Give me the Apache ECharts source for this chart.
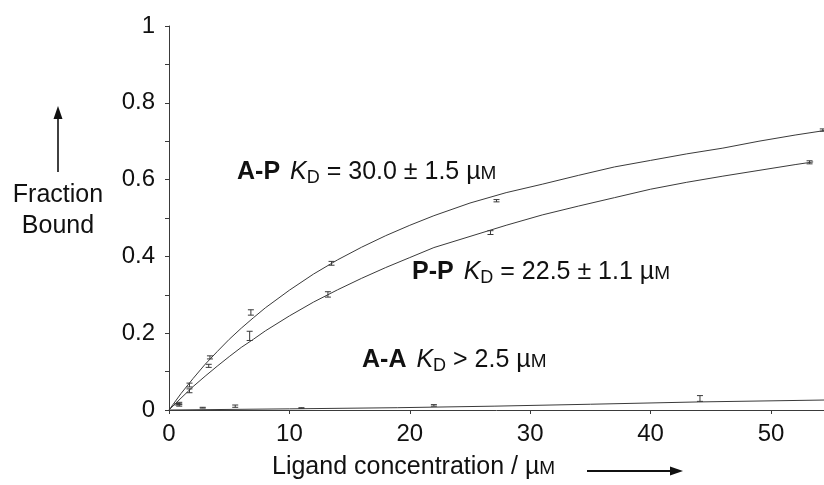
<!DOCTYPE html>
<html>
<head>
<meta charset="utf-8">
<script src="https://cdn.jsdelivr.net/npm/echarts@6/dist/echarts.min.js"></script>
<style>html,body{margin:0;padding:0;background:#fff}#c{width:824px;height:485px}</style>
</head>
<body>
<div id="c"></div>
<script>
// ---- data ----
var xTicks = [0, 10, 20, 30, 40, 50];
var yTicks = [0, 0.1, 0.2, 0.3, 0.4, 0.5, 0.6, 0.7, 0.8, 0.9, 1];
var yLabels = [0, 0.2, 0.4, 0.6, 0.8, 1];

// fitted curves (x, fraction bound)
var curveAP = [[0,0],[1,0.043],[2,0.082],[3,0.119],[4,0.152],[5,0.184],[6,0.213],[7,0.240],[8,0.266],[10,0.312],[12,0.354],[14,0.391],[16,0.424],[18,0.454],[20,0.481],[22,0.506],[25,0.539],[28,0.566],[31,0.588],[34,0.611],[37,0.633],[40,0.650],[43,0.667],[46,0.682],[49,0.700],[52,0.716],[54.5,0.728]];
var curvePP = [[0,0],[1,0.031],[2,0.061],[3,0.088],[4,0.114],[5,0.139],[6,0.163],[7,0.184],[8,0.206],[10,0.245],[12,0.281],[14,0.313],[16,0.343],[18,0.371],[20,0.397],[22,0.423],[25,0.452],[28,0.481],[31,0.508],[34,0.531],[37,0.553],[40,0.575],[43,0.593],[46,0.609],[49,0.624],[52,0.639],[53.5,0.646]];
var curveAA = [[0,0],[10,0.003],[19,0.006],[27,0.010],[35,0.015],[44,0.021],[54.5,0.026]];

// measured points [x, mean, error]
var pointsAP = [[0.85,0.017,0.003],[1.7,0.065,0.005],[3.4,0.137,0.004],[6.8,0.254,0.007],[13.5,0.382,0.005],[27.2,0.545,0.003],[54.3,0.729,0.003]];
var pointsPP = [[0.85,0.013,0.003],[1.7,0.050,0.005],[3.3,0.115,0.004],[6.7,0.193,0.012],[13.2,0.301,0.007],[26.7,0.462,0.005],[53.2,0.645,0.004]];
var pointsAA = [[0.7,0.015,0.002],[2.8,0.006,0.001],[5.5,0.010,0.003],[11.0,0.005,0.001],[22.0,0.012,0.002],[44.1,0.030,0.0075]];

var labelAP = ['A-P', '= 30.0 ± 1.5'];
var labelPP = ['P-P', '= 22.5 ± 1.1'];
var labelAA = ['A-A', '> 2.5'];
var xName = 'Ligand concentration / µ';
var yName = 'Fraction\nBound';

// ---- chart ----
var FONT = '"Liberation Sans", Arial, Helvetica, sans-serif';
var INK = '#111';
var LINE = '#3a3a3a';

function errRender(params, api) {
  var x = api.value(0), y = api.value(1), e = api.value(2);
  var top = api.coord([x, y + e]);
  var bot = api.coord([x, y - e]);
  var cw = 3;
  var st = {stroke: LINE, lineWidth: 1};
  return {
    type: 'group',
    children: [
      {type: 'line', shape: {x1: top[0], y1: top[1], x2: bot[0], y2: bot[1]}, style: st},
      {type: 'line', shape: {x1: top[0]-cw, y1: top[1], x2: top[0]+cw, y2: top[1]}, style: st},
      {type: 'line', shape: {x1: bot[0]-cw, y1: bot[1], x2: bot[0]+cw, y2: bot[1]}, style: st}
    ]
  };
}

var RICH = {
  b: {fontFamily: FONT, fontSize: 25, fontWeight: 'bold', lineHeight: 30, fill: INK},
  i: {fontFamily: FONT, fontSize: 25, fontStyle: 'italic', lineHeight: 30, fill: INK},
  s: {fontFamily: FONT, fontSize: 18, lineHeight: 12, verticalAlign: 'bottom', fill: INK},
  n: {fontFamily: FONT, fontSize: 25, lineHeight: 30, fill: INK},
  m: {fontFamily: FONT, fontSize: 19, lineHeight: 30, verticalAlign: 'middle', padding: [3, 0, 0, 0], fill: INK}
};

function kdText(lab) {
  return {
    text: '{b|' + lab[0] + '}   {i|K}{s|D}{n| ' + lab[1] + ' µ}{m|M}',
    rich: RICH,
    verticalAlign: 'middle',
    align: 'left'
  };
}

var chart = echarts.init(document.getElementById('c'), null, {renderer: 'canvas'});
chart.setOption({
  animation: false,
  backgroundColor: '#fff',
  grid: {left: 169, right: 0, top: 26, bottom: 75, containLabel: false, outerBoundsMode: 'none'},
  xAxis: {
    type: 'value', min: 0, max: 54.4,
    axisLine: {lineStyle: {color: LINE, width: 1}},
    axisTick: {show: true, length: 4, customValues: xTicks, lineStyle: {color: LINE}},
    axisLabel: {customValues: xTicks, color: INK, fontFamily: FONT, fontSize: 24, margin: 12},
    splitLine: {show: false}
  },
  yAxis: {
    type: 'value', min: 0, max: 1,
    axisLine: {show: true, lineStyle: {color: LINE, width: 1}},
    axisTick: {show: true, length: 4, customValues: yTicks, lineStyle: {color: LINE}},
    axisLabel: {customValues: yLabels, color: INK, fontFamily: FONT, fontSize: 24, margin: 14,
      formatter: function (v) { return v === 0 ? '0' : (v === 1 ? '1' : v.toFixed(1)); }},
    splitLine: {show: false}
  },
  series: [
    {type: 'line', data: curveAP, showSymbol: false, symbol: 'none', lineStyle: {color: LINE, width: 1}, z: 3},
    {type: 'line', data: curvePP, showSymbol: false, symbol: 'none', lineStyle: {color: LINE, width: 1}, z: 3},
    {type: 'line', data: curveAA, showSymbol: false, symbol: 'none', lineStyle: {color: LINE, width: 1}, z: 3},
    {type: 'custom', renderItem: errRender, data: pointsAP, z: 4},
    {type: 'custom', renderItem: errRender, data: pointsPP, z: 4},
    {type: 'custom', renderItem: errRender, data: pointsAA, z: 4}
  ],
  graphic: [
    {type: 'text', x: 237, y: 172, style: kdText(labelAP)},
    {type: 'text', x: 412, y: 272, style: kdText(labelPP)},
    {type: 'text', x: 362, y: 360, style: kdText(labelAA)},
    {type: 'text', x: 272, y: 467, style: {
      text: '{n|' + xName + '}{m|M}',
      rich: RICH,
      verticalAlign: 'middle', align: 'left'}},
    {type: 'line', shape: {x1: 587, y1: 471, x2: 672, y2: 471}, style: {stroke: INK, lineWidth: 2}},
    {type: 'polygon', shape: {points: [[683, 471], [670, 466.5], [670, 475.5]]}, style: {fill: INK}},
    {type: 'text', x: 58, y: 211, style: {text: yName, fontFamily: FONT, fontSize: 25, lineHeight: 31, fill: INK, align: 'center', verticalAlign: 'middle'}},
    {type: 'line', shape: {x1: 58, y1: 172, x2: 58, y2: 116}, style: {stroke: INK, lineWidth: 1.6}},
    {type: 'polygon', shape: {points: [[58, 106], [53.5, 119], [62.5, 119]]}, style: {fill: INK}}
  ]
});
</script>
</body>
</html>
